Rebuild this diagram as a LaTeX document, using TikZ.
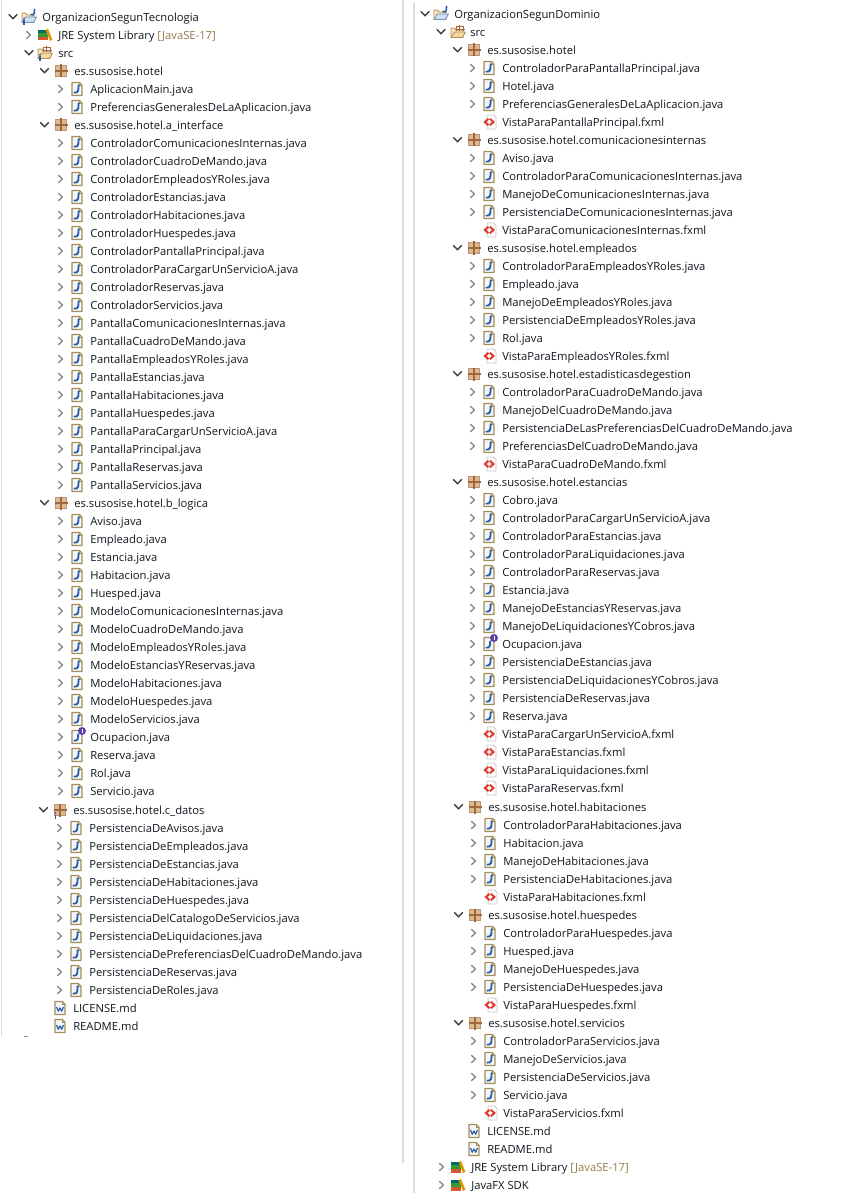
\documentclass[tikz,border=0pt]{standalone}
\usepackage{fontspec}
\setmainfont{Open Sans}
\newcounter{rowc}
\definecolor{ink}{HTML}{14141E}
\definecolor{decor}{HTML}{957D47}
\definecolor{rulegray}{HTML}{DCDCDC}
\definecolor{docedge}{HTML}{A48E58}
\definecolor{docfill}{HTML}{F3F6FB}
\definecolor{jblue}{HTML}{2C5FA6}
\definecolor{pkgfill}{HTML}{DDB890}
\definecolor{pkgline}{HTML}{A0663C}
\definecolor{xmlred}{HTML}{E0392B}
\definecolor{folderfill}{HTML}{F5D9A0}
\definecolor{folderedge}{HTML}{B08A50}
\definecolor{badge}{HTML}{5B3FA8}
\definecolor{projfront}{HTML}{CFE0F3}
\definecolor{projedge}{HTML}{6F8FB5}
\tikzset{
  x=0.75pt,y=-0.75pt,
  rowtext/.style={anchor=base west,inner sep=0pt,text=ink,font=\fontsize{8.42pt}{10pt}\selectfont},
  chevopen/.style={draw=black!75,line width=1.05pt,line cap=round,line join=round},
  chevshut/.style={draw=black!45,line width=1.05pt,line cap=round,line join=round},
  docshape/.style={draw=docedge,fill=docfill,line width=0.8pt,line join=round},
  panelrule/.style={draw=rulegray,line width=1.1pt},
}
% chevrons
\newcommand{\chevO}[2]{\draw[chevopen] (#1-4,#2-2.5) -- (#1,#2+1.8) -- (#1+4,#2-2.5);}
\newcommand{\chevS}[2]{\draw[chevshut] (#1-2,#2-3.6) -- (#1+2,#2) -- (#1-2,#2+3.6);}
% document outline
\newcommand{\docpath}[2]{\path[docshape] (#1-5,#2-6.5) -- (#1+2.5,#2-6.5) -- (#1+5,#2-4) -- (#1+5,#2+6.5) -- (#1-5,#2+6.5) -- cycle;
  \draw[docedge,line width=0.5pt] (#1+2.5,#2-6.5) -- (#1+2.5,#2-4) -- (#1+5,#2-4);}
\newcommand{\jfile}[2]{\docpath{#1}{#2}
  \draw[jblue,line width=1.4pt,line cap=round] (#1+1.6,#2-3.8) .. controls (#1+1.6,#2+1) and (#1+1.4,#2+4.2) .. (#1-2.6,#2+3.6);}
\newcommand{\ifile}[2]{\docpath{#1}{#2}
  \draw[jblue,line width=1.4pt,line cap=round] (#1+1.2,#2-2.8) .. controls (#1+1.2,#2+1) and (#1+1,#2+4.2) .. (#1-2.6,#2+3.6);
  \fill[badge] (#1+5,#2-6) circle (3pt);
  \fill[white] (#1+4.5,#2-8.3) rectangle (#1+5.6,#2-3.8);}
\newcommand{\mdfile}[2]{\docpath{#1}{#2}
  \draw[jblue,line width=0.9pt,line join=round] (#1-3.5,#2-1) -- (#1-1.7,#2+3.2) -- (#1,#2) -- (#1+1.7,#2+3.2) -- (#1+3.5,#2-1);}
\newcommand{\fxfile}[2]{\draw[black!22,fill=white,line width=0.7pt] (#1-4.5,#2-7) -- (#1+2,#2-7) -- (#1+4.5,#2-4.5) -- (#1+4.5,#2+7) -- (#1-4.5,#2+7) -- cycle;
  \draw[xmlred,line width=1.5pt,line join=miter] (#1-3,#2-3.2) -- (#1-6.6,#2) -- (#1-3,#2+3.2);
  \draw[xmlred,line width=1.5pt,line join=miter] (#1-1.6,#2-3.2) -- (#1+2,#2) -- (#1-1.6,#2+3.2);}
\newcommand{\pkg}[2]{\fill[pkgfill] (#1-5.5,#2-5.5) rectangle (#1+5.5,#2+5.5);
  \draw[pkgline!70,line width=0.6pt] (#1-5.2,#2-5.2) rectangle (#1+5.2,#2+5.2);
  \draw[pkgline,line width=0.8pt] (#1,#2-6.5) -- (#1,#2+6.5) (#1-6.5,#2) -- (#1+6.5,#2);}
\newcommand{\infomark}[2]{\fill[jblue] (#1,#2-3.2) circle (0.75pt); \draw[jblue,line width=1pt] (#1,#2-1.5) -- (#1,#2+3);}
\newcommand{\library}[2]{%
  \fill[brown!70!red] (#1-7.5,#2+1.8) rectangle (#1+3,#2+5.5);
  \fill[green!50!black!80] (#1-7,#2-1.6) rectangle (#1+2.5,#2+1.6);
  \fill[teal!85!black] (#1-7,#2-5) rectangle (#1+2,#2-1.8);
  \draw[orange!70!yellow!90!black,line width=2pt] (#1+1.8,#2-5.6) -- (#1+6.2,#2+5.4);}
\newcommand{\folderbase}[4]{\draw[folderedge,fill=folderfill!70!white,line width=0.6pt,line join=round] (#1-7,#2+5.5) -- (#1-7,#2-4) -- (#1-3.5,#2-4) -- (#1-2,#2-2) -- (#1+5,#2-2) -- (#1+5,#2+5.5) -- cycle;
  \draw[#4,fill=#3,line width=0.6pt,line join=round] (#1-7,#2+5.5) -- (#1-3.5,#2) -- (#1+7.5,#2) -- (#1+4.5,#2+5.5) -- cycle;}
\newcommand{\project}[2]{\folderbase{#1}{#2}{projfront}{projedge}
  \draw[jblue,line width=1.2pt,line cap=round] (#1+5.5,#2-7.5) .. controls (#1+5.5,#2-3) and (#1+5,#2-1.5) .. (#1+2,#2-2.5);}
\newcommand{\srcfolder}[2]{\folderbase{#1}{#2}{folderfill}{folderedge}
  \draw[pkgline,line width=0.7pt] (#1-1.5,#2-0.5) -- (#1-1.5,#2-5.5) -- (#1+5,#2-5.5) -- (#1+5,#2-0.5) (#1+1.8,#2-7) -- (#1+1.8,#2-0.5) (#1-3,#2-3) -- (#1+6.5,#2-3);}
% rows
\newcommand{\rowlabel}[3]{\stepcounter{rowc}\node[rowtext] (t\arabic{rowc}) at (#1,#2+4.4) {#3};}
\newcommand{\jrow}[3]{\chevS{#1-29.5}{#2}\jfile{#1-13}{#2}\rowlabel{#1}{#2}{#3}}
\newcommand{\irow}[3]{\chevS{#1-29.5}{#2}\ifile{#1-13}{#2}\rowlabel{#1}{#2}{#3}}
\newcommand{\xrow}[3]{\fxfile{#1-10.5}{#2}\rowlabel{#1}{#2}{#3}}
\newcommand{\mrow}[3]{\mdfile{#1-13}{#2}\rowlabel{#1}{#2}{#3}}
\newcommand{\prow}[3]{\chevO{#1-29.5}{#2}\pkg{#1-13}{#2}\rowlabel{#1}{#2}{#3}}
\newcommand{\lrow}[3]{\chevS{#1-29.5}{#2}\library{#1-13}{#2}\rowlabel{#1}{#2}{#3}}
\begin{document}
\begin{tikzpicture}
\useasboundingbox (0,0) rectangle (845,1198);
\coordinate (pa) at (1.5,0); \coordinate (pb) at (1.5,1036);
\coordinate (qa) at (403,0); \coordinate (qb) at (403,1163);
\coordinate (ra) at (414,3); \coordinate (rb) at (414,1193);
\coordinate (sa) at (24,1036); \coordinate (sb) at (28,1036);
\draw[panelrule] (pa) -- (pb);
\draw[panelrule] (qa) -- (qb);
\draw[panelrule] (ra) -- (rb);
\draw[black!45,line width=0.7pt] (sa) -- (sb);
% ---------- left tree
\chevO{13}{17}\project{29}{17}\infomark{24}{22}\rowlabel{42}{17}{OrganizacionSegunTecnologia}
\lrow{58}{35}{JRE System Library {\color{decor}[JavaSE-17]}}
\chevO{29}{53}\srcfolder{45}{53}\infomark{40}{58}\rowlabel{58}{53}{src}
\prow{74}{71}{es.susosise.hotel}
\jrow{90}{89}{AplicacionMain.java}
\jrow{90}{107}{PreferenciasGeneralesDeLaAplicacion.java}
\prow{74}{125}{es.susosise.hotel.a\_interface}
\jrow{90}{143}{ControladorComunicacionesInternas.java}
\jrow{90}{161}{ControladorCuadroDeMando.java}
\jrow{90}{179}{ControladorEmpleadosYRoles.java}
\jrow{90}{197}{ControladorEstancias.java}
\jrow{90}{215}{ControladorHabitaciones.java}
\jrow{90}{233}{ControladorHuespedes.java}
\jrow{90}{251}{ControladorPantallaPrincipal.java}
\jrow{90}{269}{ControladorParaCargarUnServicioA.java}
\jrow{90}{287}{ControladorReservas.java}
\jrow{90}{305}{ControladorServicios.java}
\jrow{90}{323}{PantallaComunicacionesInternas.java}
\jrow{90}{341}{PantallaCuadroDeMando.java}
\jrow{90}{359}{PantallaEmpleadosYRoles.java}
\jrow{90}{377}{PantallaEstancias.java}
\jrow{90}{395}{PantallaHabitaciones.java}
\jrow{90}{413}{PantallaHuespedes.java}
\jrow{90}{431}{PantallaParaCargarUnServicioA.java}
\jrow{90}{449}{PantallaPrincipal.java}
\jrow{90}{467}{PantallaReservas.java}
\jrow{90}{485}{PantallaServicios.java}
\prow{74}{503}{es.susosise.hotel.b\_logica}
\jrow{90}{521}{Aviso.java}
\jrow{90}{539}{Empleado.java}
\jrow{90}{557}{Estancia.java}
\jrow{90}{575}{Habitacion.java}
\jrow{90}{593}{Huesped.java}
\jrow{90}{611}{ModeloComunicacionesInternas.java}
\jrow{90}{629}{ModeloCuadroDeMando.java}
\jrow{90}{647}{ModeloEmpleadosYRoles.java}
\jrow{90}{665}{ModeloEstanciasYReservas.java}
\jrow{90}{683}{ModeloHabitaciones.java}
\jrow{90}{701}{ModeloHuespedes.java}
\jrow{90}{719}{ModeloServicios.java}
\irow{90}{737}{Ocupacion.java}
\jrow{90}{755}{Reserva.java}
\jrow{90}{773}{Rol.java}
\jrow{90}{791}{Servicio.java}
\prow{73}{810}{es.susosise.hotel.c\_datos}\infomark{55.5}{816}
\jrow{89}{828}{PersistenciaDeAvisos.java}
\jrow{89}{846}{PersistenciaDeEmpleados.java}
\jrow{89}{864}{PersistenciaDeEstancias.java}
\jrow{89}{882}{PersistenciaDeHabitaciones.java}
\jrow{89}{900}{PersistenciaDeHuespedes.java}
\jrow{89}{918}{PersistenciaDelCatalogoDeServicios.java}
\jrow{89}{936}{PersistenciaDeLiquidaciones.java}
\jrow{89}{954}{PersistenciaDePreferenciasDelCuadroDeMando.java}
\jrow{89}{972}{PersistenciaDeReservas.java}
\jrow{89}{990}{PersistenciaDeRoles.java}
\mrow{73}{1008}{LICENSE.md}
\mrow{73}{1026}{README.md}
% ---------- right tree
\chevO{425}{14}\project{441}{14}\rowlabel{454}{14}{OrganizacionSegunDominio}
\chevO{441}{32}\srcfolder{458}{32}\rowlabel{470}{32}{src}
\prow{487}{50}{es.susosise.hotel}
\jrow{502}{68}{ControladorParaPantallaPrincipal.java}
\jrow{502}{86}{Hotel.java}
\jrow{502}{104}{PreferenciasGeneralesDeLaAplicacion.java}
\xrow{502}{122}{VistaParaPantallaPrincipal.fxml}
\prow{487}{140}{es.susosise.hotel.comunicacionesinternas}
\jrow{502}{158}{Aviso.java}
\jrow{502}{176}{ControladorParaComunicacionesInternas.java}
\jrow{502}{194}{ManejoDeComunicacionesInternas.java}
\jrow{502}{212}{PersistenciaDeComunicacionesInternas.java}
\xrow{502}{230}{VistaParaComunicacionesInternas.fxml}
\prow{487}{248}{es.susosise.hotel.empleados}
\jrow{502}{266}{ControladorParaEmpleadosYRoles.java}
\jrow{502}{284}{Empleado.java}
\jrow{502}{302}{ManejoDeEmpleadosYRoles.java}
\jrow{502}{320}{PersistenciaDeEmpleadosYRoles.java}
\jrow{502}{338}{Rol.java}
\xrow{502}{356}{VistaParaEmpleadosYRoles.fxml}
\prow{487}{374}{es.susosise.hotel.estadisticasdegestion}
\jrow{502}{392}{ControladorParaCuadroDeMando.java}
\jrow{502}{410}{ManejoDelCuadroDeMando.java}
\jrow{502}{428}{PersistenciaDeLasPreferenciasDelCuadroDeMando.java}
\jrow{502}{446}{PreferenciasDelCuadroDeMando.java}
\xrow{502}{464}{VistaParaCuadroDeMando.fxml}
\prow{487}{482}{es.susosise.hotel.estancias}
\jrow{502}{500}{Cobro.java}
\jrow{502}{518}{ControladorParaCargarUnServicioA.java}
\jrow{502}{536}{ControladorParaEstancias.java}
\jrow{502}{554}{ControladorParaLiquidaciones.java}
\jrow{502}{572}{ControladorParaReservas.java}
\jrow{502}{590}{Estancia.java}
\jrow{502}{608}{ManejoDeEstanciasYReservas.java}
\jrow{502}{626}{ManejoDeLiquidacionesYCobros.java}
\irow{502}{644}{Ocupacion.java}
\jrow{502}{662}{PersistenciaDeEstancias.java}
\jrow{502}{680}{PersistenciaDeLiquidacionesYCobros.java}
\jrow{502}{698}{PersistenciaDeReservas.java}
\jrow{502}{716}{Reserva.java}
\xrow{502}{734}{VistaParaCargarUnServicioA.fxml}
\xrow{502}{752}{VistaParaEstancias.fxml}
\xrow{502}{770}{VistaParaLiquidaciones.fxml}
\xrow{502}{788}{VistaParaReservas.fxml}
\prow{488}{807}{es.susosise.hotel.habitaciones}
\jrow{503}{825}{ControladorParaHabitaciones.java}
\jrow{503}{843}{Habitacion.java}
\jrow{503}{861}{ManejoDeHabitaciones.java}
\jrow{503}{879}{PersistenciaDeHabitaciones.java}
\xrow{503}{897}{VistaParaHabitaciones.fxml}
\prow{488}{915}{es.susosise.hotel.huespedes}
\jrow{503}{933}{ControladorParaHuespedes.java}
\jrow{503}{951}{Huesped.java}
\jrow{503}{969}{ManejoDeHuespedes.java}
\jrow{503}{987}{PersistenciaDeHuespedes.java}
\xrow{503}{1005}{VistaParaHuespedes.fxml}
\prow{488}{1023}{es.susosise.hotel.servicios}
\jrow{503}{1041}{ControladorParaServicios.java}
\jrow{503}{1059}{ManejoDeServicios.java}
\jrow{503}{1077}{PersistenciaDeServicios.java}
\jrow{503}{1095}{Servicio.java}
\xrow{503}{1113}{VistaParaServicios.fxml}
\mrow{487}{1131}{LICENSE.md}
\mrow{487}{1149}{README.md}
\lrow{471}{1167}{JRE System Library {\color{decor}[JavaSE-17]}}
\lrow{471}{1185}{JavaFX SDK}
\end{tikzpicture}
\end{document}
